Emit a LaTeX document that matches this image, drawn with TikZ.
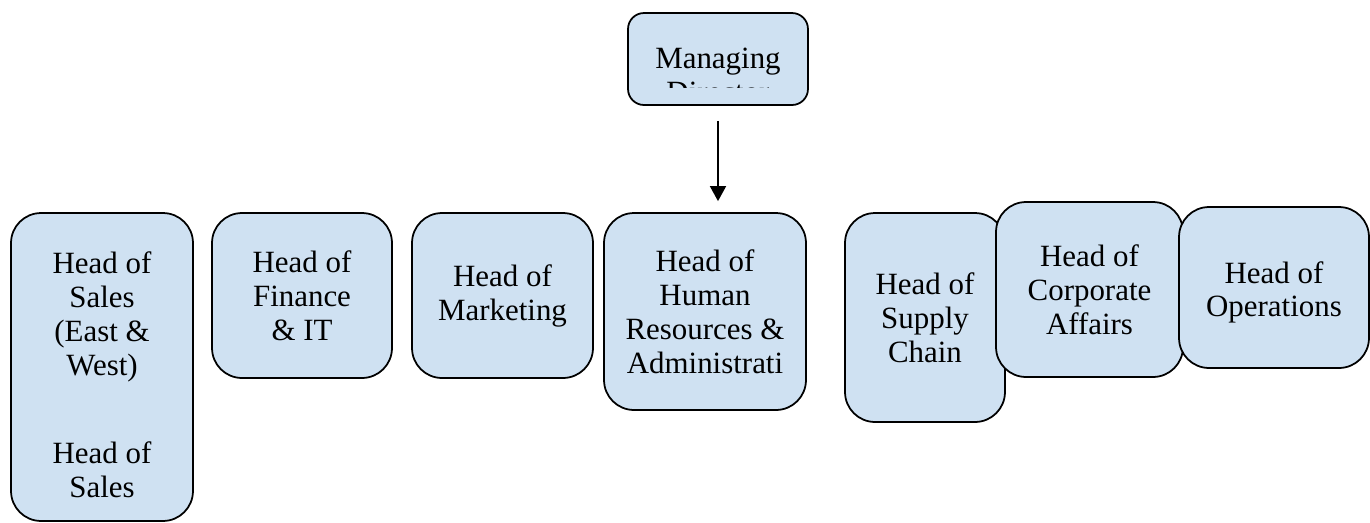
\documentclass[tikz,border=0pt]{standalone}
\usepackage{fontspec}
\setmainfont{Liberation Serif}
\usetikzlibrary{arrows.meta}
\definecolor{boxblue}{RGB}{207,225,242}
\begin{document}
\begin{tikzpicture}[x=0.02cm,y=-0.02cm,
  post/.style={draw=black,line width=1pt,fill=boxblue,rounded corners=0.6cm,
    inner sep=0pt,align=center,font=\fontsize{17.6pt}{19.3pt}\selectfont},
  lbl/.style={inner sep=0pt,font=\fontsize{17.6pt}{19.3pt}\selectfont},
  arr/.style={-{Triangle[width=9pt,length=8.5pt]},line width=1.1pt}]
\useasboundingbox (0,0) rectangle (1370,522);
% managing director, second line cut off by the box
\node[post,rounded corners=0.32cm,minimum width=3.6cm,minimum height=1.84cm] (md) at (718,59) {};
\node[lbl,anchor=base] (mdtop) at (718,68) {Managing};
\begin{scope}
\clip (628,13) rectangle (808,87);
\node[lbl,anchor=base] (mdbot) at (718,102) {Director};
\end{scope}
% heads of departments
\node[post,minimum width=3.64cm,minimum height=6.16cm] (sales) at (102,367)
  {\rule{0pt}{21pt}Head of\\Sales\\(East \&\\West)\\[31pt]Head of\\Sales};
\node[post,minimum width=3.6cm,minimum height=3.3cm] (fin) at (302,295.5) {Head of\\Finance\\\& IT};
\node[post,minimum width=3.62cm,minimum height=3.3cm] (mkt) at (502.5,295.5) {Head of\\Marketing};
\node[post,minimum width=4.04cm,minimum height=3.94cm] (hr) at (705,311.5)
  {Head of\\Human\\Resources \&\\Administrati};
\node[post,minimum width=3.2cm,minimum height=4.18cm] (supply) at (925,317.5) {Head of\\Supply\\Chain};
\node[post,minimum width=3.74cm,minimum height=3.5cm] (corp) at (1089.5,289.5) {Head of\\Corporate\\Affairs};
\node[post,minimum width=3.8cm,minimum height=3.22cm] (ops) at (1274,287.5) {\rule{0pt}{18pt}Head of\\Operations};
% reporting line
\draw[arr,shorten <=0.3cm,shorten >=0.22cm] (md.south) -- (md.south |- hr.north);
\end{tikzpicture}
\end{document}
